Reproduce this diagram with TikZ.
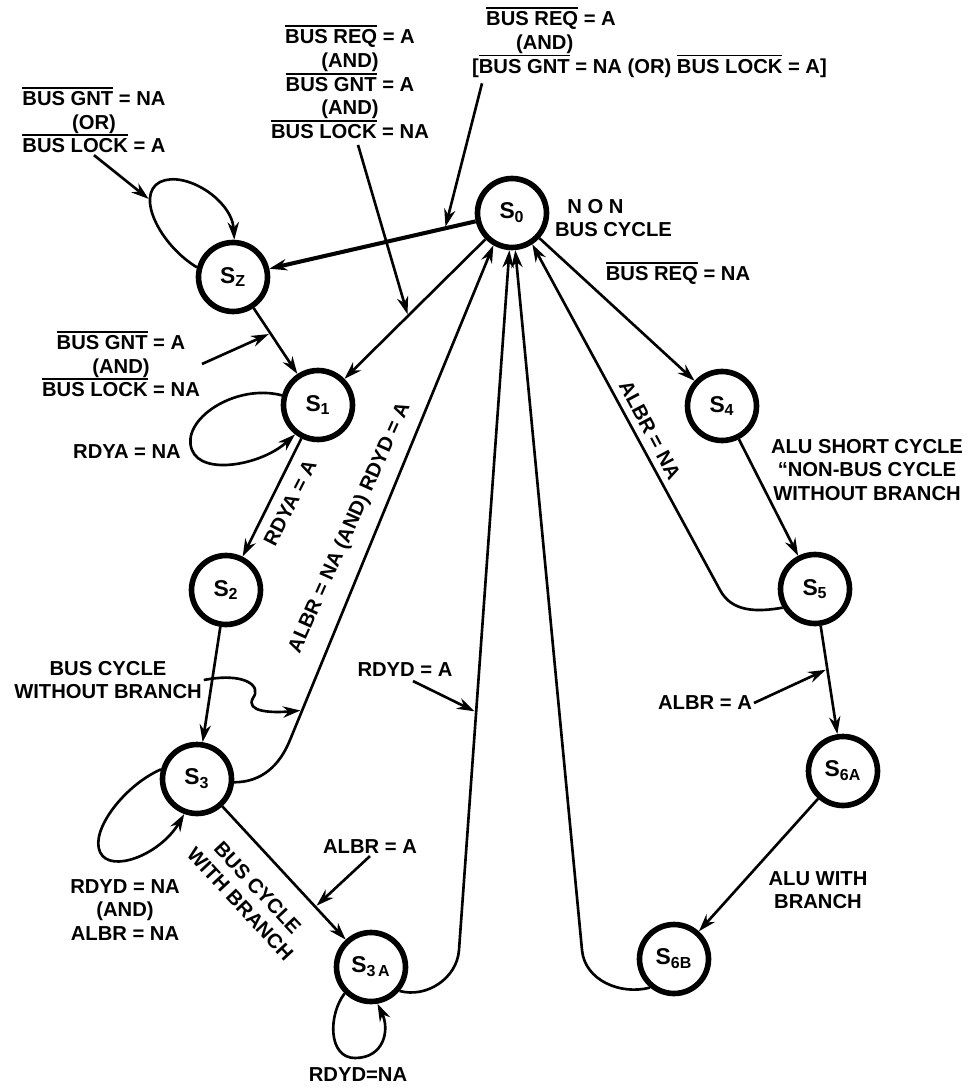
\documentclass[tikz,border=0pt]{standalone}
\usepackage{fontspec}
\setmainfont{Liberation Sans}
\usetikzlibrary{arrows.meta,calc}
\newcommand\ovl[1]{\leavevmode\vbox{\hrule height 1.1pt\kern1.4pt\hbox{#1}}}
\tikzset{%
  stnode/.style = {shape=circle, draw, line width=3.2pt, minimum size=1.38cm,%
                   inner sep=0pt, font=\bfseries\fontsize{13}{15}\selectfont},%
  cond/.style   = {align=center, inner sep=1pt,%
                   font=\bfseries\fontsize{11.5}{13.5}\selectfont},%
  trans/.style  = {line width=1.5pt, -{Stealth[length=10pt,width=6.5pt]}},%
  ptr/.style    = {trans, shorten >=1pt}%
}

\begin{document}
\begin{tikzpicture}[x=0.02cm, y=0.02cm]
  \useasboundingbox (0,0) rectangle (974,-1092);
  \node[stnode] (s0)  at (512,-213) {S\textsubscript{0}};
  \node[stnode] (sz)  at (233,-277) {S\textsubscript{Z}};
  \node[stnode] (s1)  at (318,-405) {S\textsubscript{1}};
  \node[stnode] (s2)  at (226,-590) {S\textsubscript{2}};
  \node[stnode] (s3)  at (197,-779) {S\textsubscript{3}};
  \node[stnode] (s3a) at (371,-967) {S\textsubscript{3\,A}};
  \node[stnode] (s4)  at (722,-406) {S\textsubscript{4}};
  \node[stnode] (s5)  at (815,-589) {S\textsubscript{5}};
  \node[stnode] (s6a) at (843,-771) {S\textsubscript{6A}};
  \node[stnode] (s6b) at (674,-959) {S\textsubscript{6B}};

  \draw[trans, line width=2.3pt] (s0) -- (sz);
  \draw[trans] (s0) -- (s1);
  \draw[trans] (sz) -- (s1);
  \draw[trans] (s1) -- (s2);
  \draw[trans] (s2) -- (s3);
  \draw[trans] (s3) -- (s3a);
  \draw[trans] (s0) -- (s4);
  \draw[trans] (s4) -- (s5);
  \draw[trans] (s5) -- (s6a);
  \draw[trans] (s6a) -- (s6b);

  \coordinate (c3)  at (290,-740);
  \coordinate (c3a) at (459,-950);
  \coordinate (c6b) at (582,-950);
  \coordinate (c5)  at (720,-590);
  \draw[trans] (s3.-5) to[out=0, in=248] (c3) -- (s0.240);
  \draw[trans] (s3a.-40) to[out=-15, in=266] (c3a) -- (s0.266);
  \draw[trans] (s6b.230) to[out=195, in=275] (c6b) -- (s0.275);
  \draw[trans] (s5.210) to[out=190, in=298] (c5) -- (s0.-57);

  \draw[trans] (sz.165) .. controls (160,-245) and (135,-195) .. (160,-182)
               .. controls (185,-170) and (232,-200) .. (sz.88);
  \draw[trans] (s1.165) .. controls (235,-383) and (180,-420) .. (192,-450)
               .. controls (202,-476) and (262,-465) .. (s1.232);
  \draw[trans] (s3.165) .. controls (125,-785) and (90,-830) .. (100,-852)
               .. controls (110,-874) and (160,-855) .. (s3.250);
  \draw[trans] (s3a.225) .. controls (328,-1015) and (328,-1058) .. (355,-1058)
               .. controls (384,-1058) and (390,-1030) .. (s3a.280);

  \node[cond] (l1) at (94,-120) {\ovl{BUS GNT} = NA\\(OR)\\\ovl{BUS LOCK} = A};
  \node[cond] (l2) at (350,-82) {\ovl{BUS REQ} = A\\(AND)\\\ovl{BUS GNT} = A\\(AND)\\\ovl{BUS LOCK} = NA};
  \node[cond, align=left, anchor=north west] (l3) at (470,-5)
       {\hspace*{8pt}\ovl{BUS REQ} = A\\\hspace*{25pt}(AND)\\{[}\ovl{BUS GNT} = NA (OR) \ovl{BUS LOCK} = A{]}};
  \node[cond] (l4) at (121,-364) {\ovl{BUS GNT} = A\\(AND)\\\ovl{BUS LOCK} = NA};
  \node[cond] (l5) at (127,-452) {RDYA = NA};
  \node[cond, rotate=63] (l6) at (290,-503) {RDYA = A};
  \node[cond, rotate=66] (l7) at (350,-528) {ALBR = NA (AND) RDYD = A};
  \node[cond] (l8) at (108,-680) {BUS CYCLE\\WITHOUT BRANCH};
  \node[cond] (l9) at (125,-910) {RDYD = NA\\(AND)\\ALBR = NA};
  \node[cond, rotate=-47] (l10) at (249,-896) {BUS CYCLE\\WITH BRANCH};
  \node[cond] (l11) at (370,-847) {ALBR = A};
  \node[cond] (l12) at (405,-670) {RDYD = A};
  \node[cond] (l13) at (678,-273) {\ovl{BUS REQ} = NA};
  \node[cond, align=left, anchor=west] (l14) at (553,-218) {\hspace*{7pt}N O N\\BUS CYCLE};
  \node[cond, rotate=-62] (l15) at (650,-430) {ALBR = NA};
  \node[cond] (l16) at (867,-470) {ALU SHORT CYCLE\\“NON-BUS CYCLE\\WITHOUT BRANCH};
  \node[cond] (l17) at (705,-703) {ALBR = A};
  \node[cond] (l18) at (818,-890) {ALU WITH\\BRANCH};
  \node[cond] (l19) at (358,-1075) {RDYD=NA};

  \coordinate (lp1) at (150,-200);
  \draw[ptr] (l1.south) -- (lp1);
  \draw[ptr] ($(l2.south)+(8,-4)$) -- ($(s0)!0.536!(s1)$);
  \draw[ptr] ($(l3.south west)+(12,-4)$) -- ($(s0)!0.24!(sz)$);
  \draw[ptr] (l4.east) -- ($(sz)!0.44!(s1)$);
  \draw[ptr] (l8.east) .. controls (245,-672) and (262,-686) .. (253,-698)
             .. controls (245,-712) and (272,-713) .. ($(c3)!0.06!(s0.240)$);
  \draw[ptr] (l11.south) -- ($(s3)!0.68!(s3a)$);
  \draw[ptr] ($(l12.south)+(8,-2)$) -- ($(c3a)!0.34!(s0.266)$);
  \draw[ptr] (l17.east) -- ($(s5)!0.44!(s6a)$);
\end{tikzpicture}
\end{document}
